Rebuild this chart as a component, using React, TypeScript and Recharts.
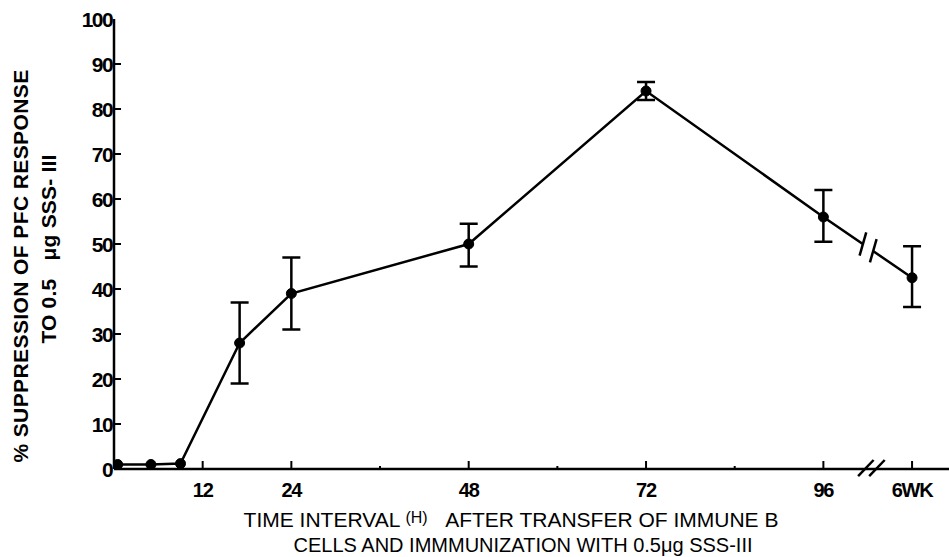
import React from 'react';
import { LineChart, Line, XAxis, YAxis, ErrorBar, ReferenceLine } from 'recharts';

// time after transfer (h); the last point is 6 weeks, drawn past the axis break
const hours = [0.5, 5, 9, 17, 24, 48, 72, 96, 108];
const suppression = [1, 1, 1.2, 28, 39, 50, 84, 56, 42.5];
const errHigh = [null, null, null, 37, 47, 54.5, 86, 62, 49.5];
const errLow = [null, null, null, 19, 31, 45, 82, 50.5, 36];

const xTicks = [12, 24, 36, 48, 60, 72, 84, 96, 108];
const xTickLabels = ['12', '24', '', '48', '', '72', '', '96', '6WK'];
const yTicks = [0, 10, 20, 30, 40, 50, 60, 70, 80, 90, 100];

const data = hours.map((h, i) => ({
  h,
  v: suppression[i],
  err: errHigh[i] == null ? null : [suppression[i] - (errLow[i] as number), (errHigh[i] as number) - suppression[i]],
}));

const font = '"Liberation Sans", Arial, sans-serif';

const XTick = (props: any) => {
  const { x, y, payload } = props;
  const idx = xTicks.indexOf(payload.value);
  const label = xTickLabels[idx];
  const len = label ? 8 : 3;
  return (
    <g>
      <line x1={x} y1={y} x2={x} y2={y - len} stroke="#000" strokeWidth={2} />
      {label && (
        <text x={x} y={y + 28} textAnchor="middle" fontFamily={font} fontWeight="bold" fontSize={20} letterSpacing={-1.2} fill="#000">
          {label}
        </text>
      )}
    </g>
  );
};

const YTick = (props: any) => {
  const { x, y, payload } = props;
  const v = payload.value;
  return (
    <g>
      {v > 0 && v < 100 && <line x1={x} y1={y} x2={x + 7} y2={y} stroke="#000" strokeWidth={2} />}
      <text x={x - 2} y={y + 7.5} textAnchor="end" fontFamily={font} fontWeight="bold" fontSize={21} letterSpacing={-1.6} fill="#000">
        {v}
      </text>
    </g>
  );
};

export default function App() {
  return (
    <div style={{ position: 'relative', width: 949, height: 557, background: '#fff' }}>
      <style>{'body{margin:0}'}</style>
      <LineChart width={949} height={557} data={data} margin={{ top: 19, right: 0, left: 0, bottom: 0 }}>
        <XAxis
          dataKey="h"
          type="number"
          domain={[0, 113]}
          ticks={xTicks}
          tick={<XTick />}
          tickSize={0}
          tickMargin={0}
          height={88}
          axisLine={{ stroke: '#000', strokeWidth: 2.5 }}
          interval={0}
          allowDataOverflow
        />
        <YAxis
          type="number"
          domain={[0, 100]}
          ticks={yTicks}
          tick={<YTick />}
          tickSize={0}
          tickMargin={0}
          width={114}
          axisLine={{ stroke: '#000', strokeWidth: 2.5 }}
          interval={0}
        />
        <Line
          dataKey="v"
          stroke="#000"
          strokeWidth={2.5}
          dot={{ r: 5, fill: '#000', stroke: '#000', strokeWidth: 1 }}
          isAnimationActive={false}
        >
          <ErrorBar dataKey="err" width={9} stroke="#000" strokeWidth={2.5} direction="y" />
        </Line>
        {/* axis break */}
        <ReferenceLine segment={[{ x: 100.7, y: -1.6 }, { x: 102.8, y: 2 }]} stroke="#000" strokeWidth={2.5} ifOverflow="visible" />
        <ReferenceLine segment={[{ x: 102.2, y: -1.6 }, { x: 104.3, y: 2 }]} stroke="#000" strokeWidth={2.5} ifOverflow="visible" />
        {/* break on the data line */}
        <ReferenceLine segment={[{ x: 101.3, y: 50.0 }, { x: 102.7, y: 48.5 }]} stroke="#fff" strokeWidth={6} ifOverflow="visible" />
        <ReferenceLine segment={[{ x: 100.9, y: 47.4 }, { x: 101.8, y: 52.6 }]} stroke="#000" strokeWidth={2.5} ifOverflow="visible" />
        <ReferenceLine segment={[{ x: 102.3, y: 45.9 }, { x: 103.2, y: 51.1 }]} stroke="#000" strokeWidth={2.5} ifOverflow="visible" />
      </LineChart>
      <svg width={949} height={557} style={{ position: 'absolute', left: 0, top: 0, pointerEvents: 'none' }}>
        <g fontFamily={font} fill="#000">
          <text x={20} y={266} transform="rotate(-90 20 266)" textAnchor="middle" dominantBaseline="central" fontSize={21} fontWeight="bold" letterSpacing={0.4}>
            % SUPPRESSION OF PFC RESPONSE
          </text>
          <text x={48} y={249} transform="rotate(-90 48 249)" textAnchor="middle" dominantBaseline="central" fontSize={21} fontWeight="bold" letterSpacing={0.2}>
            {'TO 0.5\u00a0\u00a0\u00a0μg SSS-\u00a0III'}
          </text>
          <text x={511} y={519} textAnchor="middle" dominantBaseline="central" fontSize={21}>
            TIME INTERVAL <tspan fontSize={16} dy={-2}>(H)</tspan><tspan dy={2}>{'\u00a0\u00a0\u00a0'}AFTER TRANSFER OF IMMUNE B</tspan>
          </text>
          <text x={523} y={545} textAnchor="middle" dominantBaseline="central" fontSize={20}>
            CELLS AND IMMMUNIZATION WITH 0.5μg SSS-III
          </text>
        </g>
      </svg>
    </div>
  );
}
